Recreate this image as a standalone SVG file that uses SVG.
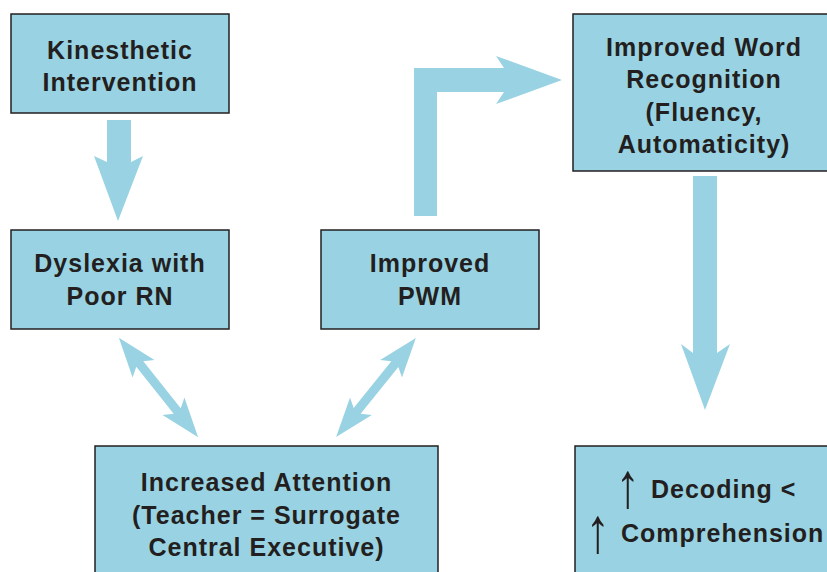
<svg xmlns="http://www.w3.org/2000/svg" width="827" height="572" viewBox="0 0 827 572">
<style>
.box{fill:#99d3e3;stroke:#231f20;stroke-width:1.5}
.arr{fill:#99d3e3}
.t{font-family:"Liberation Sans",Arial,sans-serif;font-weight:bold;font-size:25px;letter-spacing:1px;fill:#231f20;text-anchor:middle}
.ts{font-family:"Liberation Sans",Arial,sans-serif;font-weight:bold;font-size:25px;letter-spacing:1px;fill:#231f20}
.up{font-family:"Liberation Sans",Arial,sans-serif;font-size:36px;fill:#231f20;text-anchor:middle}
</style>
<rect width="827" height="572" fill="#ffffff"/>
<g id="connectors">
<polygon class="arr" points="107,120 131,120 131,162 143,156 118,221 94,156 107,162"/>
<polygon class="arr" points="693,176 717,176 717,353 730,344 705,410 681,344 693,353"/>
<polygon class="arr" points="414,216 414,68 504,68 496,56 562,80 496,104 504,92 437,92 437,216"/>
<polygon class="arr" transform="translate(158.5,387.5) rotate(51.4)" points="-63.5,0 -24,-14 -30,-4.5 30,-4.5 24,-14 63.5,0 24,14 30,4.5 -30,4.5 -24,14"/>
<polygon class="arr" transform="translate(376,387.5) rotate(-51.1)" points="-63.5,0 -24,-14 -30,-4.5 30,-4.5 24,-14 63.5,0 24,14 30,4.5 -30,4.5 -24,14"/>
</g>
<g id="kinesthetic">
<rect class="box" x="11" y="14" width="218" height="99"/>
<text class="t" x="120" y="59">Kinesthetic</text>
<text class="t" x="120" y="91">Intervention</text>
</g>
<g id="dyslexia">
<rect class="box" x="11" y="230" width="218" height="99"/>
<text class="t" x="120" y="272">Dyslexia with</text>
<text class="t" x="120" y="305">Poor RN</text>
</g>
<g id="pwm">
<rect class="box" x="321" y="230" width="218" height="99"/>
<text class="t" x="430" y="272">Improved</text>
<text class="t" x="430" y="305">PWM</text>
</g>
<g id="word">
<rect class="box" x="573" y="14" width="262" height="157"/>
<text class="t" x="704" y="56">Improved Word</text>
<text class="t" x="704" y="88">Recognition</text>
<text class="t" x="704" y="121">(Fluency,</text>
<text class="t" x="704" y="153">Automaticity)</text>
</g>
<g id="attention">
<rect class="box" x="95" y="446" width="343" height="140"/>
<text class="t" x="266.5" y="491">Increased Attention</text>
<text class="t" x="266.5" y="524">(Teacher = Surrogate</text>
<text class="t" x="266.5" y="556">Central Executive)</text>
</g>
<g id="decoding">
<rect class="box" x="575" y="446" width="262" height="140"/>
<text class="up" transform="translate(628,507) scale(1.35,1.77)">↑</text>
<text class="ts" x="651" y="498">Decoding &lt;</text>
<text class="up" transform="translate(598,552) scale(1.35,1.77)">↑</text>
<text class="ts" x="621" y="542">Comprehension</text>
</g>
</svg>
